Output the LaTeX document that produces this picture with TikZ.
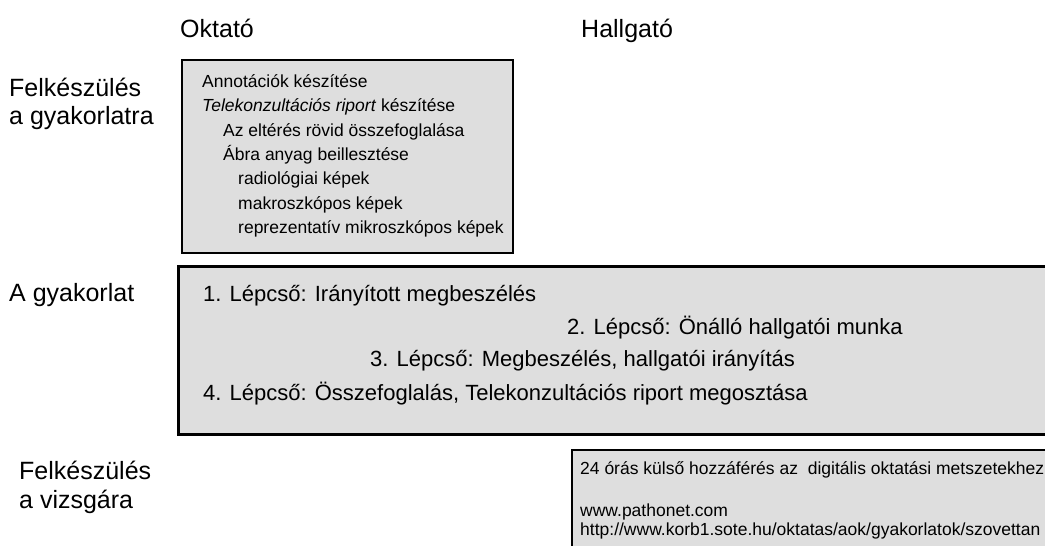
\documentclass[tikz,border=0pt]{standalone}
\usepackage{fontspec}
\setmainfont{Liberation Sans}
\begin{document}
\begin{tikzpicture}[x=1pt,y=-1pt,
  every node/.style={inner sep=0pt,anchor=base west},
  big/.style={font=\fontsize{25}{29}\selectfont},
  mid/.style={font=\fontsize{22}{26}\selectfont},
  small/.style={font=\fontsize{17.5}{21}\selectfont},
  panel/.style={draw=black,fill=black!13,line width=2pt}]
\useasboundingbox (0,0) rectangle (1045,546);
\clip (0,0) rectangle (1045,546);
% oszlopok
\node[big] (oktato) at (180,37) {Oktató};
\node[big] (hallgato) at (581,37) {Hallgató};
% sorok
\node[big] (felk1) at (9,96) {Felkészülés};
\node[big] (felk2) at (9,124) {a gyakorlatra};
\node[big] (gyak) at (9,301) {A gyakorlat};
\node[big] (vizs1) at (19,479) {Felkészülés};
\node[big] (vizs2) at (19,508) {a vizsgára};
% felkeszules a gyakorlatra
\draw[panel] (182,60) rectangle (513,253);
\node[small] (ann) at (202,87) {Annotációk készítése};
\node[small] (tele) at (202,111) {\emph{Telekonzultációs riport} készítése};
\node[small] (elt) at (223,136) {Az eltérés rövid összefoglalása};
\node[small] (abra) at (223,160) {Ábra anyag beillesztése};
\node[small] (radio) at (238,184) {radiológiai képek};
\node[small] (makro) at (238,209) {makroszkópos képek};
\node[small] (mikro) at (238,233) {reprezentatív mikroszkópos képek};
% gyakorlat
\draw[panel,line width=3pt] (178,266) rectangle (1070,434);
\node[mid] (l1) at (203,301) {1. Lépcső: Irányított megbeszélés};
\node[mid] (l2) at (567,334) {2. Lépcső: Önálló hallgatói munka};
\node[mid] (l3) at (370,366) {3. Lépcső: Megbeszélés, hallgatói irányítás};
\node[mid] (l4) at (203,400) {4. Lépcső: Összefoglalás, Telekonzultációs riport megosztása};
% vizsga
\draw[panel] (572,450) rectangle (1070,570);
\node[small] (hozz) at (580,474) {24 órás külső hozzáférés az\ \ digitális oktatási metszetekhez};
\node[small] (patho) at (580,516) {www.pathonet.com};
\node[small] (korb) at (580,535) {http://www.korb1.sote.hu/oktatas/aok/gyakorlatok/szovettan};
\end{tikzpicture}
\end{document}
